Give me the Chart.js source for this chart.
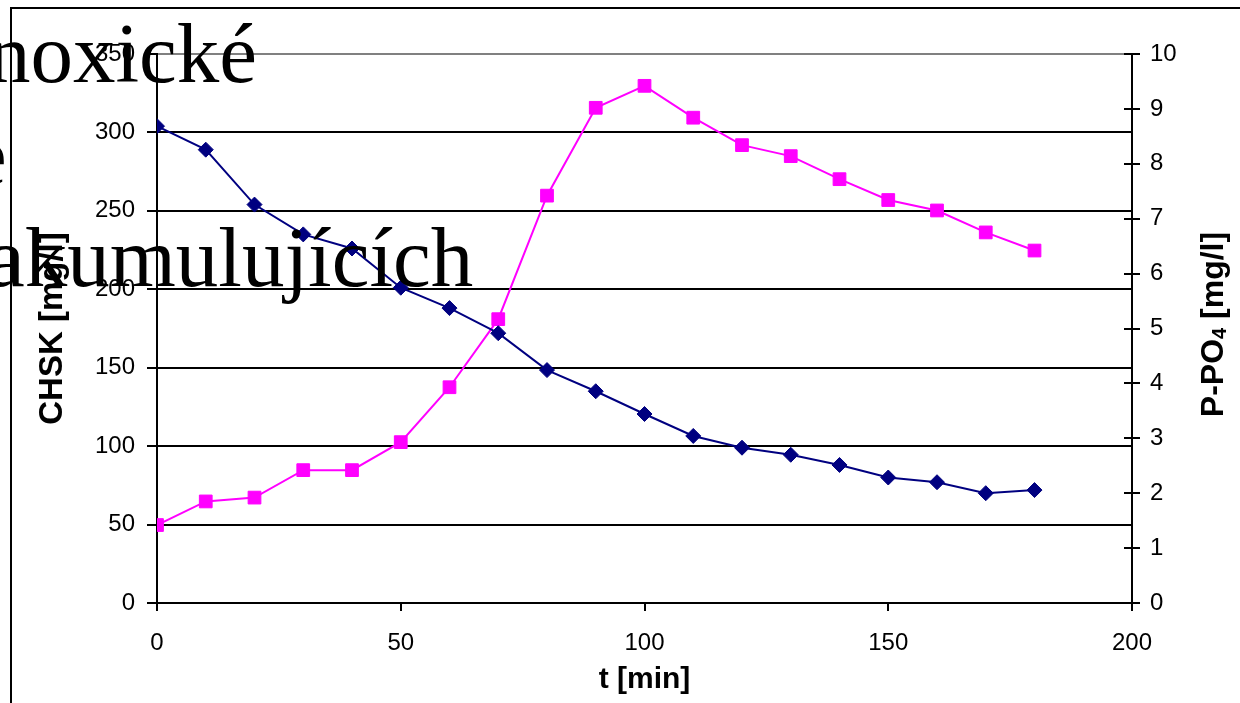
<!DOCTYPE html>
<html>
<head>
<meta charset="utf-8">
<script src="https://cdn.jsdelivr.net/npm/chart.js@4.4.1/dist/chart.umd.min.js"></script>
<style>
  html, body { margin: 0; padding: 0; background: #fff; overflow: hidden; }
  #wrap { position: relative; width: 1240px; height: 703px; overflow: hidden; }
  #c { position: absolute; left: 0; top: 0; }
  #frame { position: absolute; left: 10px; top: 7px; width: 1300px; height: 800px;
           border-left: 2px solid #000; border-top: 2px solid #000; pointer-events: none; }
  .ov { position: absolute; font-family: "Liberation Serif", "Times New Roman", serif;
        font-size: 85px; line-height: 85px; color: #000; white-space: nowrap; pointer-events: none; }
</style>
</head>
<body>
<div id="wrap">
  <canvas id="c" width="1240" height="703"></canvas>
  <div id="frame"></div>
  <div class="ov" style="left:-12px; top:11px;">noxické</div>
  <div class="ov" style="left:-31px; top:113px;">e</div>
  <div class="ov" style="left:-13px; top:215px;">akumulujících</div>
</div>
<script>
// ---- data ----
const times = [0, 10, 20, 30, 40, 50, 60, 70, 80, 90, 100, 110, 120, 130, 140, 150, 160, 170, 180];
const chsk = [304, 289, 254, 235, 226, 201, 188, 172, 148.5, 135, 120.5, 106.5, 99, 94.5, 88, 80, 77, 70, 72];
const ppo4 = [1.42, 1.85, 1.92, 2.42, 2.42, 2.93, 3.93, 5.17, 7.42, 9.02, 9.42, 8.84, 8.34, 8.14, 7.72, 7.34, 7.15, 6.75, 6.42];
const xTicks = [0, 50, 100, 150, 200];
const leftTicks = [0, 50, 100, 150, 200, 250, 300, 350];
const rightTicks = [0, 1, 2, 3, 4, 5, 6, 7, 8, 9, 10];
const xTitle = 't [min]';
const leftTitle = 'CHSK [mg/l]';
const rightTitleParts = ['P-PO', '4', ' [mg/l]'];

const FONT = '"Liberation Sans", Arial, sans-serif';

const rightAxisExtras = {
  id: 'rightAxisExtras',
  afterDraw(chart) {
    const ctx = chart.ctx;
    const y2 = chart.scales.y2;
    const ca = chart.chartArea;
    ctx.save();
    // inner half of crossing tick marks on the right axis
    ctx.strokeStyle = '#000';
    ctx.lineWidth = 2;
    rightTicks.forEach(v => {
      const py = Math.round(y2.getPixelForValue(v));
      ctx.beginPath();
      ctx.moveTo(ca.right - 8, py);
      ctx.lineTo(ca.right, py);
      ctx.stroke();
    });
    // right title, reading bottom-to-top, with subscript
    ctx.translate(1214, (ca.top + ca.bottom) / 2 - 4);
    ctx.rotate(-Math.PI / 2);
    ctx.fillStyle = '#000';
    ctx.textBaseline = 'middle';
    const big = 'bold 32px ' + FONT;
    const small = 'bold 20px ' + FONT;
    ctx.font = big;
    const w0 = ctx.measureText(rightTitleParts[0]).width;
    const w2 = ctx.measureText(rightTitleParts[2]).width;
    ctx.font = small;
    const w1 = ctx.measureText(rightTitleParts[1]).width;
    let x = -(w0 + w1 + w2) / 2;
    ctx.font = big;
    ctx.fillText(rightTitleParts[0], x, 0);
    x += w0;
    ctx.font = small;
    ctx.fillText(rightTitleParts[1], x, 6);
    x += w1;
    ctx.font = big;
    ctx.fillText(rightTitleParts[2], x, 0);
    ctx.restore();
  }
};

new Chart(document.getElementById('c'), {
  type: 'line',
  data: {
    datasets: [
      {
        label: 'CHSK',
        data: times.map((t, i) => ({ x: t, y: chsk[i] })),
        yAxisID: 'y',
        borderColor: '#000080',
        backgroundColor: '#000080',
        borderWidth: 2,
        pointStyle: 'rectRot',
        pointRadius: 7.5,
        pointBorderWidth: 1,
        tension: 0
      },
      {
        label: 'P-PO4',
        data: times.map((t, i) => ({ x: t, y: ppo4[i] })),
        yAxisID: 'y2',
        borderColor: '#FF00FF',
        backgroundColor: '#FF00FF',
        borderWidth: 2,
        pointStyle: 'rect',
        pointRadius: 9,
        pointBorderWidth: 1,
        tension: 0
      }
    ]
  },
  options: {
    responsive: false,
    animation: false,
    devicePixelRatio: 1,
    layout: { padding: { top: 54, left: 0, right: 0, bottom: 0 } },
    plugins: { legend: { display: false }, tooltip: { enabled: false } },
    scales: {
      x: {
        type: 'linear',
        position: 'bottom',
        min: 0, max: 200,
        afterBuildTicks: s => { s.ticks = xTicks.map(v => ({ value: v })); },
        afterFit: s => { s.height = 100; },
        ticks: { color: '#000', font: { family: FONT, size: 24 }, padding: 18, maxRotation: 0 },
        grid: { drawOnChartArea: false, drawTicks: true, tickLength: 8, color: '#000', lineWidth: 2 },
        border: { display: true, color: '#000', width: 2 },
        title: { display: true, text: xTitle, color: '#000',
                 font: { family: FONT, size: 30, weight: 'bold' }, padding: { top: 0, bottom: 5 } }
      },
      y: {
        type: 'linear',
        position: 'left',
        min: 0, max: 350,
        afterBuildTicks: s => { s.ticks = leftTicks.map(v => ({ value: v })); },
        afterFit: s => { s.width = 157; },
        ticks: { color: '#000', font: { family: FONT, size: 24 }, padding: 12 },
        grid: {
          drawOnChartArea: true, drawTicks: true, tickLength: 10,
          color: c => (c.tick && c.tick.value === 350) ? '#808080' : '#000',
          tickColor: '#000',
          lineWidth: 2
        },
        border: { display: true, color: '#000', width: 2 },
        title: { display: true, text: leftTitle, color: '#000',
                 font: { family: FONT, size: 33, weight: 'bold' }, padding: { top: 33, bottom: 0 } }
      },
      y2: {
        type: 'linear',
        position: 'right',
        min: 0, max: 10,
        afterBuildTicks: s => { s.ticks = rightTicks.map(v => ({ value: v })); },
        afterFit: s => { s.width = 108; },
        ticks: { color: '#000', font: { family: FONT, size: 24 }, padding: 10 },
        grid: { drawOnChartArea: false, drawTicks: true, tickLength: 8, color: '#000', lineWidth: 2 },
        border: { display: true, color: '#000', width: 2 },
        title: { display: false }
      }
    }
  },
  plugins: [rightAxisExtras]
});
</script>
</body>
</html>
